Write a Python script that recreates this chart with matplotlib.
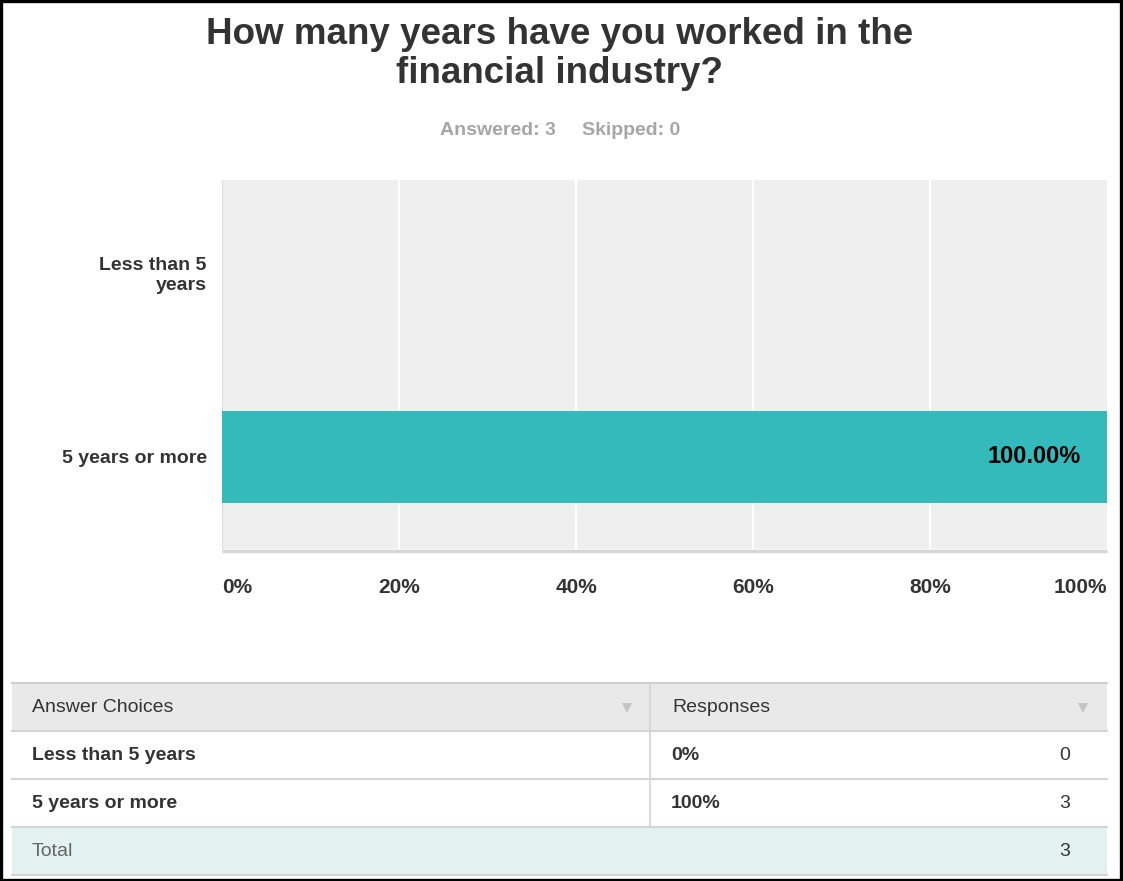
import matplotlib
matplotlib.use("Agg")
import matplotlib.pyplot as plt
from matplotlib.patches import Rectangle

plt.rcParams['font.family'] = ['Liberation Sans', 'DejaVu Sans']

# survey results
question_lines = ["How many years have you worked in the", "financial industry?"]
answered = 3
skipped = 0
choices = ["Less than 5 years", "5 years or more"]
axis_labels = ["Less than 5\nyears", "5 years or more"]
percents = [0.0, 100.0]
counts = [0, 3]
tick_values = [0, 20, 40, 60, 80, 100]
tick_labels = ["0%", "20%", "40%", "60%", "80%", "100%"]

W, H = 1123, 881
TEAL = "#33bbbb"
DARK = "#333333"


def px_box(left, top, right, bottom):
    return [left / W, 1 - bottom / H, (right - left) / W, (bottom - top) / H]


fig = plt.figure(figsize=(W / 100, H / 100), dpi=100)

# overlay axes in pixel coordinates for the free text and the table
bg = fig.add_axes([0, 0, 1, 1])
bg.set_xlim(0, W)
bg.set_ylim(H, 0)
bg.axis("off")

for line, base in zip(question_lines, [44, 83]):
    bg.text(560, base, line, ha="center", va="baseline", fontsize=26.5,
            fontweight="bold", color=DARK)
bg.text(556, 135, f"Answered: {answered}", ha="right", va="baseline",
        fontsize=14, fontweight="bold", color="#a6a6a6")
bg.text(582, 135, f"Skipped: {skipped}", ha="left", va="baseline",
        fontsize=14, fontweight="bold", color="#a6a6a6")

# bar chart
ax = fig.add_axes(px_box(222, 180, 1107, 549))
ax.set_facecolor("#efefef")
ypos = list(range(len(choices)))
ax.barh(ypos, percents, height=0.5, color=TEAL, zorder=3)
ax.set_xlim(0, 100)
ax.set_ylim(len(choices) - 0.5, -0.5)
for v in tick_values[1:-1]:
    ax.axvline(v, color="white", lw=1.5, zorder=1)
for s in ax.spines.values():
    s.set_visible(False)
ax.spines["left"].set_visible(True)
ax.spines["left"].set_color("#dddddd")
ax.set_yticks(ypos)
ax.set_yticklabels(axis_labels, fontsize=14, fontweight="bold", color=DARK,
                   linespacing=1.2)
ax.tick_params(axis="y", length=0, pad=11)
ax.set_xticks(tick_values)
ax.set_xticklabels(tick_labels, fontsize=15, fontweight="bold", color=DARK)
ax.tick_params(axis="x", length=0, pad=21)
xt = ax.get_xticklabels()
xt[0].set_horizontalalignment("left")
xt[-1].set_horizontalalignment("right")

for y, p in zip(ypos, percents):
    if p > 0:
        ax.text(p - 3, y, f"{p:.2f}%", ha="right", va="center", fontsize=17,
                fontweight="bold", color="black", zorder=4)

# shadow under the plot area
bg.plot([222, 1107], [550.5, 550.5], color="#d6d6d6", lw=2.5,
        solid_capstyle="butt")

# response table
tl, tr, cdiv = 12, 1107, 650
row_h = 48
top = 683
bg.add_patch(Rectangle((tl, top), tr - tl, row_h, facecolor="#e9e9e9",
                       edgecolor="none"))
bg.add_patch(Rectangle((tl, top + row_h * 3), tr - tl, row_h,
                       facecolor="#e3f1f1", edgecolor="none"))
bg.plot([tl, tr], [top - 0.5, top - 0.5], color="#cfcfcf", lw=1.5)
for i in range(1, 5):
    yl = top + row_h * i
    bg.plot([tl, tr], [yl, yl], color="#d4d4d4", lw=1.5)
bg.plot([cdiv, cdiv], [top, top + row_h * 3], color="#d4d4d4", lw=1.2)

hy = top + row_h / 2
bg.text(32, hy + 1, "Answer Choices", ha="left", va="center", fontsize=14,
        color=DARK)
bg.text(672, hy + 1, "Responses", ha="left", va="center", fontsize=14,
        color=DARK)
bg.plot([627, 1083], [hy + 1, hy + 1], linestyle="none", marker="v",
        markersize=7.5, color="#c4c4c4", markeredgewidth=0)

for i, (c, p, n) in enumerate(zip(choices, percents, counts)):
    yc = top + row_h * (i + 1) + row_h / 2 + 1
    bg.text(32, yc, c, ha="left", va="center", fontsize=14,
            fontweight="bold", color=DARK)
    bg.text(671, yc, f"{p:.0f}%", ha="left", va="center", fontsize=14,
            fontweight="bold", color=DARK)
    bg.text(1070, yc, str(n), ha="right", va="center", fontsize=14,
            color=DARK)

yc = top + row_h * 3 + row_h / 2 + 1
bg.text(32, yc, "Total", ha="left", va="center", fontsize=14, color="#666666")
bg.text(1070, yc, str(sum(counts)), ha="right", va="center", fontsize=14,
        color=DARK)

# outer frame
fig.patches.append(Rectangle((0.0012, 0.0015), 0.9972, 0.9968,
                             transform=fig.transFigure, fill=False,
                             edgecolor="black", lw=2.4))

fig.savefig("out.png", dpi=100, facecolor="white")
